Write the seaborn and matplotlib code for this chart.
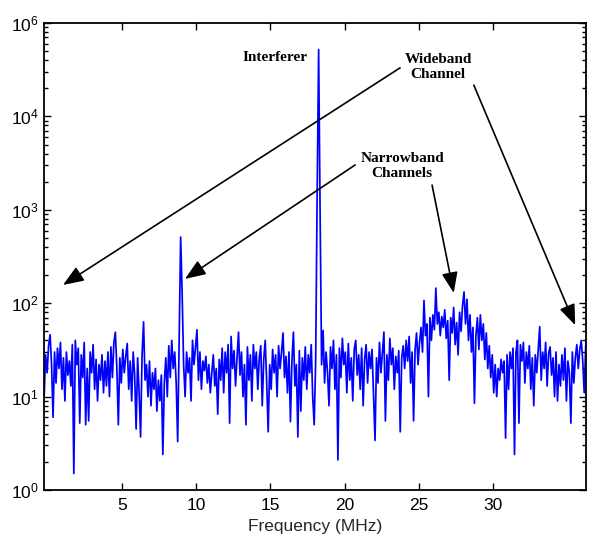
import numpy as np
import pandas as pd
import matplotlib
matplotlib.use("Agg")
import matplotlib.pyplot as plt
import seaborn as sns

# ---------------- data ----------------
freq_start = -0.25   # MHz, first sample
freq_step = 0.1      # MHz between samples
amplitude = [
    10, 28, 18, 35, 46, 22, 6, 30, 14, 33,
    20, 38, 12, 26, 9, 30, 17, 24, 13, 36,
    1.5, 40, 22, 33, 5.2, 28, 16, 38, 5, 20,
    5.5, 30, 18, 36, 12, 25, 9, 22, 15, 28,
    11, 24, 13, 30, 10, 34, 16, 38, 49, 20,
    5, 26, 14, 32, 18, 27, 37, 12, 24, 9,
    30, 17, 4.5, 26, 11, 3.7, 28, 63, 15, 22,
    10, 24, 8, 18, 12, 20, 7, 15, 9, 17,
    2.4, 14, 26, 10, 35, 16, 40, 20, 30, 14,
    3.3, 43, 510, 127, 22, 10, 30, 18, 26, 9,
    40, 22, 34, 52, 15, 30, 12, 24, 19, 27,
    14, 22, 11, 18, 28, 13, 20, 6.5, 25, 15,
    33, 11, 30, 18, 36, 5.2, 44, 20, 31, 13,
    26, 49, 17, 30, 10, 22, 5, 34, 15, 28,
    9, 36, 20, 30, 12, 26, 35, 8, 25, 40,
    14, 4.2, 22, 12, 32, 18, 28, 10, 35, 20,
    30, 48, 16, 27, 11, 30, 5.4, 24, 49, 13,
    22, 3.7, 31, 7, 26, 15, 34, 12, 28, 18,
    36, 10, 5, 24, 1500, 52000, 900, 22, 51, 14,
    30, 18, 8, 34, 20, 40, 12, 28, 2.1, 33,
    16, 42, 22, 30, 11, 37, 15, 26, 9, 32,
    40, 17, 28, 12, 33, 8, 25, 36, 14, 30,
    20, 32, 10, 3.4, 26, 14, 38, 18, 30, 49,
    5.5, 28, 15, 42, 22, 33, 12, 27, 18, 31,
    4.2, 26, 35, 20, 40, 24, 44, 14, 30, 5.5,
    32, 48, 22, 38, 55, 30, 107, 45, 60, 10,
    70, 40, 75, 52, 145, 60, 80, 45, 72, 55,
    85, 42, 65, 15, 70, 48, 90, 36, 62, 28,
    80, 50, 95, 132, 60, 110, 40, 75, 30, 55,
    8.5, 45, 70, 32, 75, 40, 60, 25, 48, 20,
    35, 16, 28, 11, 22, 10, 20, 15, 25, 18,
    24, 3.6, 28, 12, 30, 20, 33, 2.4, 30, 40,
    5.2, 36, 24, 38, 14, 30, 20, 35, 12, 26,
    8, 28, 18, 32, 56, 15, 30, 20, 38, 13,
    29, 34, 17, 26, 10, 30, 9, 22, 13, 28,
    15, 33, 9, 24, 18, 5.2, 30, 14, 26, 36,
    20, 32, 40, 24, 11, 35, 46,
]
x_ticks = [5, 10, 15, 20, 25, 30]
y_ticks = [1e0, 1e1, 1e2, 1e3, 1e4, 1e5]
y_tick_labels = ["$10^0$", "$10^1$", "$10^2$", "$10^3$", "$10^4$", "$10^6$"]
x_label = "Frequency (MHz)"

freq = np.round(freq_start + freq_step * np.arange(len(amplitude)), 3)
df = pd.DataFrame({"freq": freq, "amp": amplitude})

# ---------------- style ----------------
sns.set_style("ticks")
plt.rcParams["font.family"] = ["Liberation Sans", "DejaVu Sans"]
plt.rcParams["mathtext.default"] = "regular"

fig = plt.figure(figsize=(5.89, 5.42), dpi=100)
ax = fig.add_axes([44 / 589, 1 - 490 / 542, 542 / 589, 467 / 542])

sns.lineplot(data=df, x="freq", y="amp", ax=ax, color="#0000ff",
             linewidth=1.25, estimator=None, sort=False)

ax.set_yscale("log")
ax.set_xlim(-0.26, 36.27)
ax.set_ylim(1, 1e5)
ax.set_xticks(x_ticks)
ax.set_xticklabels([str(t) for t in x_ticks])
ax.set_yticks(y_ticks)
ax.set_yticklabels(y_tick_labels)
ax.yaxis.set_minor_locator(matplotlib.ticker.LogLocator(base=10, subs=np.arange(2, 10)))
ax.yaxis.set_minor_formatter(matplotlib.ticker.NullFormatter())

ax.tick_params(which="both", direction="in", top=True, right=True,
               labelsize=12.5, colors="black", width=1.0)
ax.tick_params(which="major", length=5)
ax.tick_params(which="minor", length=3)
ax.tick_params(axis="x", pad=6)
ax.tick_params(axis="y", pad=4)
for s in ax.spines.values():
    s.set_visible(True)
    s.set_linewidth(1.3)
    s.set_color("black")

ax.set_xlabel(x_label, fontsize=12.5, labelpad=4)
ax.set_ylabel("")

# ---------------- annotations ----------------
tfont = dict(family=["Liberation Serif", "DejaVu Serif"], weight="bold",
             fontsize=11, color="black", ha="center", va="center",
             linespacing=1.25)
ax.text(0.426, 0.927, "Interferer", transform=ax.transAxes, **tfont)
ax.text(0.727, 0.906, "Wideband\nChannel", transform=ax.transAxes, **tfont)
ax.text(0.661, 0.694, "Narrowband\nChannels", transform=ax.transAxes, **tfont)

aprops = dict(arrowstyle="-|>,head_length=0.9,head_width=0.35",
              color="black", lw=1.2, shrinkA=0, shrinkB=0,
              mutation_scale=14)
arrows = [
    ((0.657, 0.904), (0.035, 0.439)),
    ((0.793, 0.867), (0.980, 0.353)),
    ((0.574, 0.696), (0.260, 0.452)),
    ((0.716, 0.653), (0.756, 0.422)),
]
for tail, head in arrows:
    ax.annotate("", xy=head, xycoords="axes fraction",
                xytext=tail, textcoords="axes fraction",
                arrowprops=aprops)

fig.savefig("out.png", dpi=100)
